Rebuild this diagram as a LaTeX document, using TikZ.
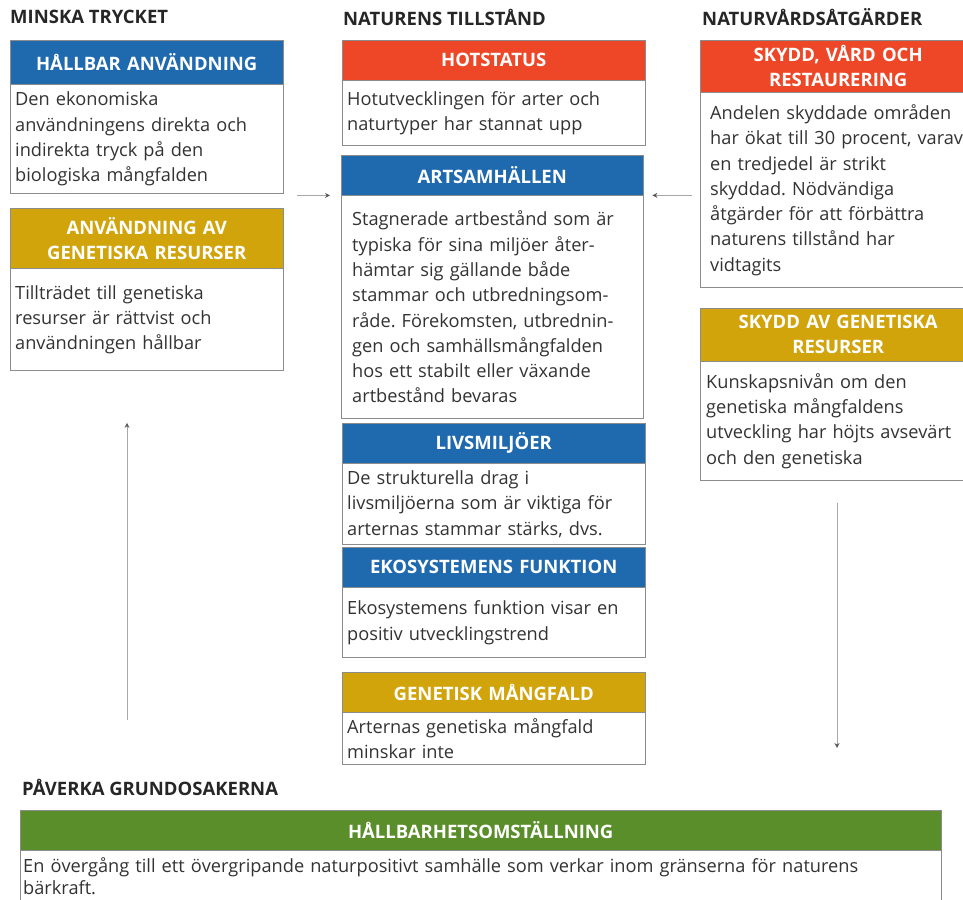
\documentclass[tikz,border=0pt]{standalone}
\usepackage{fontspec}
\setmainfont{Open Sans}
\frenchspacing
\usetikzlibrary{positioning, arrows.meta}
\definecolor{bluecol}{HTML}{1F69AE}
\definecolor{redcol}{HTML}{EE4727}
\definecolor{goldcol}{HTML}{D2A40C}
\definecolor{greencol}{HTML}{5A8E2A}
\definecolor{boxgray}{HTML}{8C8C8C}
\definecolor{textgray}{HTML}{333333}
\definecolor{linegray}{HTML}{A8A8A8}
\tikzstyle{title} = [anchor=west, inner sep=0pt, text=black!85, font=\bfseries\fontsize{18.5}{22}\selectfont]
\tikzstyle{head} = [rectangle, anchor=north west, inner sep=0pt, align=center, draw=boxgray, text=white, font=\bfseries\fontsize{18.5}{25}\selectfont]
\tikzstyle{body} = [rectangle, inner xsep=5pt, inner ysep=0pt, align=left, draw=boxgray, fill=white, text=textgray, font=\fontsize{18.2}{25.3}\selectfont]
\tikzstyle{arrow} = [-{Stealth[length=5pt, width=5pt, color=black!65]}, draw=linegray, line width=1pt]

\begin{document}
\begin{tikzpicture}[x=1pt, y=-1pt]
\useasboundingbox (0,0) rectangle (963,899);

%Minska trycket
\node (t1) [title] at (10,17) {MINSKA TRYCKET};
\node (hbhead) [head, fill=bluecol, text width=273pt, minimum height=44pt] at (10,40) {HÅLLBAR ANVÄNDNING};
\node (hbbody) [body, below=0pt of hbhead, text width=263pt, minimum height=109pt] {Den ekonomiska\\användningens direkta och\\indirekta tryck på den\\biologiska mångfalden};
\node (aghead) [head, fill=goldcol, text width=273pt, minimum height=60pt] at (10,208) {ANVÄNDNING AV\\GENETISKA RESURSER};
\node (agbody) [body, below=0pt of aghead, text width=263pt, minimum height=102pt] {Tillträdet till genetiska\\resurser är rättvist och\\användningen hållbar};

%Naturens tillstand
\node (t2) [title] at (343,17) {NATURENS TILLSTÅND};
\node (hshead) [head, fill=redcol, text width=303pt, minimum height=40pt] at (342,40) {HOTSTATUS};
\node (hsbody) [body, below=0pt of hshead, text width=293pt, minimum height=65pt] {Hotutvecklingen för arter och\\naturtyper har stannat upp};
\node (ashead) [head, fill=bluecol, text width=302pt, minimum height=40pt] at (341,155) {ARTSAMHÄLLEN};
\node (asbody) [body, below=0pt of ashead, inner xsep=11pt, text width=280pt, minimum height=223pt] {Stagnerade artbestånd som är\\typiska för sina miljöer åter-\\hämtar sig gällande både\\stammar och utbredningsom-\\råde. Förekomsten, utbrednin-\\gen och samhällsmångfalden\\hos ett stabilt eller växande\\artbestånd bevaras};
\node (lmhead) [head, fill=bluecol, text width=303pt, minimum height=40pt] at (342,423) {LIVSMILJÖER};
\node (lmbody) [body, below=0pt of lmhead, text width=293pt, minimum height=81pt] {De strukturella drag i\\livsmiljöerna som är viktiga för\\arternas stammar stärks, dvs.};
\node (ekhead) [head, fill=bluecol, text width=303pt, minimum height=40pt] at (342,547) {EKOSYSTEMENS FUNKTION};
\node (ekbody) [body, below=0pt of ekhead, text width=293pt, minimum height=70pt] {Ekosystemens funktion visar en\\positiv utvecklingstrend};
\node (gmhead) [head, fill=goldcol, text width=303pt, minimum height=40pt] at (342,672) {GENETISK MÅNGFALD};
\node (gmbody) [body, below=0pt of gmhead, text width=293pt, minimum height=52pt] {Arternas genetiska mångfald\\minskar inte};

%Naturvardsatgarder
\node (t3) [title] at (702,17) {NATURVÅRDSÅTGÄRDER};
\node (svhead) [head, fill=redcol, text width=276pt, minimum height=52pt] at (700,40) {SKYDD, VÅRD OCH\\RESTAURERING};
\node (svbody) [body, below=0pt of svhead, inner xsep=10pt, text width=256pt, minimum height=195pt] {Andelen skyddade områden\\har ökat till 30 procent, varav\\en tredjedel är strikt\\skyddad. Nödvändiga\\åtgärder för att förbättra\\naturens tillstånd har\\vidtagits};
\node (sghead) [head, fill=goldcol, text width=276pt, minimum height=53pt] at (700,308) {SKYDD AV GENETISKA\\RESURSER};
\node (sgbody) [body, below=0pt of sghead, inner xsep=6pt, text width=264pt, minimum height=119pt] {Kunskapsnivån om den\\genetiska mångfaldens\\utveckling har höjts avsevärt\\och den genetiska};

%Paverka grundorsakerna
\node (t4) [title] at (22,787) {PÅVERKA GRUNDOSAKERNA};
\node (gshead) [head, fill=greencol, text width=921pt, minimum height=40pt] at (20,810) {HÅLLBARHETSOMSTÄLLNING};
\node (gsbody) [body, below=0pt of gshead, inner xsep=3pt, text width=915pt, minimum height=52pt, font=\fontsize{18.2}{22}\selectfont] {En övergång till ett övergripande naturpositivt samhälle som verkar inom gränserna för naturens\\bärkraft.};

%Connectors
\coordinate (up) at (127,720);
\coordinate (dn) at (837,748);
\draw [arrow, shorten <=14pt, shorten >=11pt] (hbbody.east |- ashead.south) -- (asbody.west |- ashead.south);
\draw [arrow, shorten <=8pt, shorten >=9pt] (svbody.west |- ashead.south) -- (asbody.east |- ashead.south);
\draw [arrow, shorten >=52pt] (up) -- (up |- agbody.south);
\draw [arrow, shorten <=22pt] (dn |- sgbody.south) -- (dn);
\end{tikzpicture}
\end{document}
